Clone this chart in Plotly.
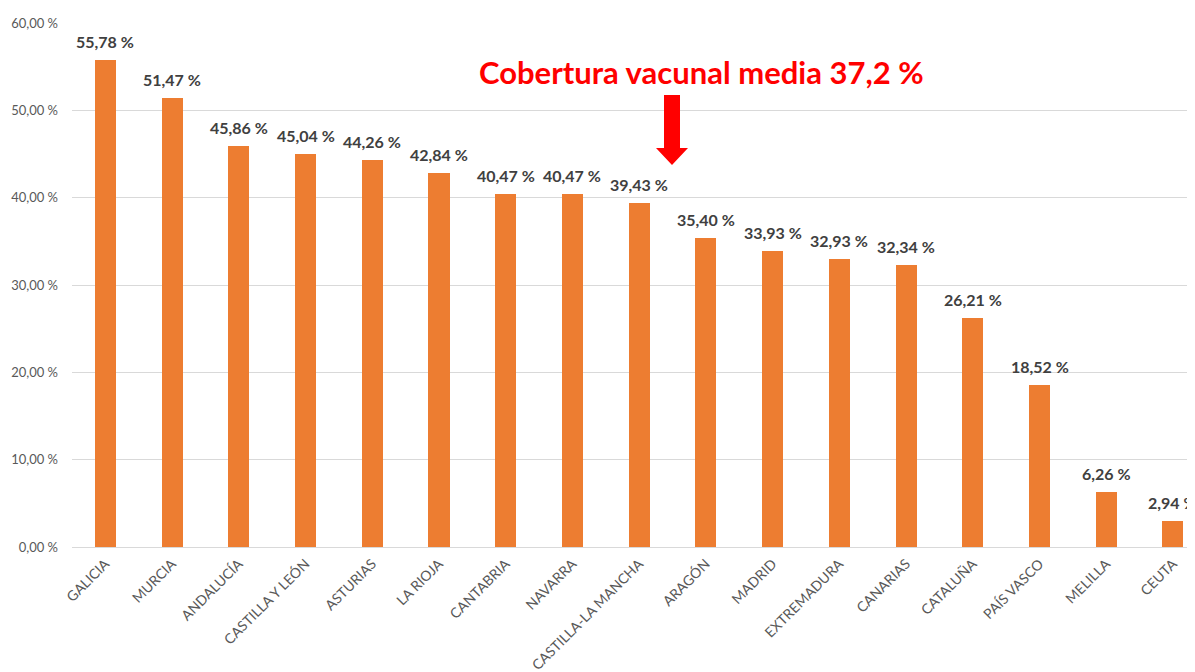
import plotly.graph_objects as go

regions = ["GALICIA", "MURCIA", "ANDALUCÍA", "CASTILLA Y LEÓN", "ASTURIAS", "LA RIOJA",
           "CANTABRIA", "NAVARRA", "CASTILLA-LA MANCHA", "ARAGÓN", "MADRID", "EXTREMADURA",
           "CANARIAS", "CATALUÑA", "PAÍS VASCO", "MELILLA", "CEUTA"]
coverage = [55.78, 51.47, 45.86, 45.04, 44.26, 42.84, 40.47, 40.47, 39.43, 35.40,
            33.93, 32.93, 32.34, 26.21, 18.52, 6.26, 2.94]
y_ticks = [0, 10, 20, 30, 40, 50, 60]
y_tick_labels = [f"{v:.2f}".replace(".", ",") + " %" for v in y_ticks]
title_text = "Cobertura vacunal media 37,2 %"

OFF = 8  # page body margin
W, H = 1195 - OFF, 672 - OFF
ML, MR, MT, MB = 72 - OFF, 0, 23 - OFF, 125

fig = go.Figure(go.Bar(
    x=regions, y=coverage,
    marker=dict(color="#ED7D31", line=dict(width=0)),
    width=0.315,
))

# value labels above bars
for r, v in zip(regions, coverage):
    fig.add_annotation(x=r, y=v, text=f"{v:.2f}".replace(".", ",") + " %",
                       showarrow=False, yanchor="bottom", yshift=7,
                       font=dict(family="Lato", size=16, color="#404040", weight="bold"))

fig.update_layout(
    width=W, height=H,
    margin=dict(l=ML, r=MR, t=MT, b=MB, autoexpand=False),
    paper_bgcolor="white", plot_bgcolor="white",
    showlegend=False,
    bargap=0,
    xaxis=dict(range=[-0.5, 16.33], tickangle=-45, automargin=False,
               tickfont=dict(family="Lato", size=14, color="#595959"),
               showgrid=False, showline=False, ticks="", ticklabelstandoff=5),
    yaxis=dict(range=[0, 60], tickvals=y_ticks, ticktext=y_tick_labels, automargin=False,
               tickfont=dict(family="Lato", size=13, color="#595959"),
               gridcolor="#D9D9D9", gridwidth=1, zeroline=True, zerolinecolor="#D9D9D9",
               zerolinewidth=1, showline=False, ticks="", ticklabelstandoff=13),
)

def px(x):
    return (x - OFF - ML) / (W - ML - MR)

def py(y):
    return 1 - (y - OFF - MT) / (H - MT - MB)

# title annotation
fig.add_annotation(xref="paper", yref="paper", x=px(701), y=py(72), text=title_text,
                   showarrow=False,
                   font=dict(family="Lato", size=31, color="#FF0000", weight="bold"),
                   xanchor="center", yanchor="middle")

# block arrow
cx = 672
pts = [(cx - 8, 95), (cx + 8, 95), (cx + 8, 148), (cx + 16, 148), (cx, 165),
       (cx - 16, 148), (cx - 8, 148)]
path = "M " + " L ".join(f"{px(a):.5f},{py(b):.5f}" for a, b in pts) + " Z"
fig.add_shape(type="path", xref="paper", yref="paper", path=path,
              fillcolor="#FF0000", line=dict(width=0))

fig.write_html("out.html")
